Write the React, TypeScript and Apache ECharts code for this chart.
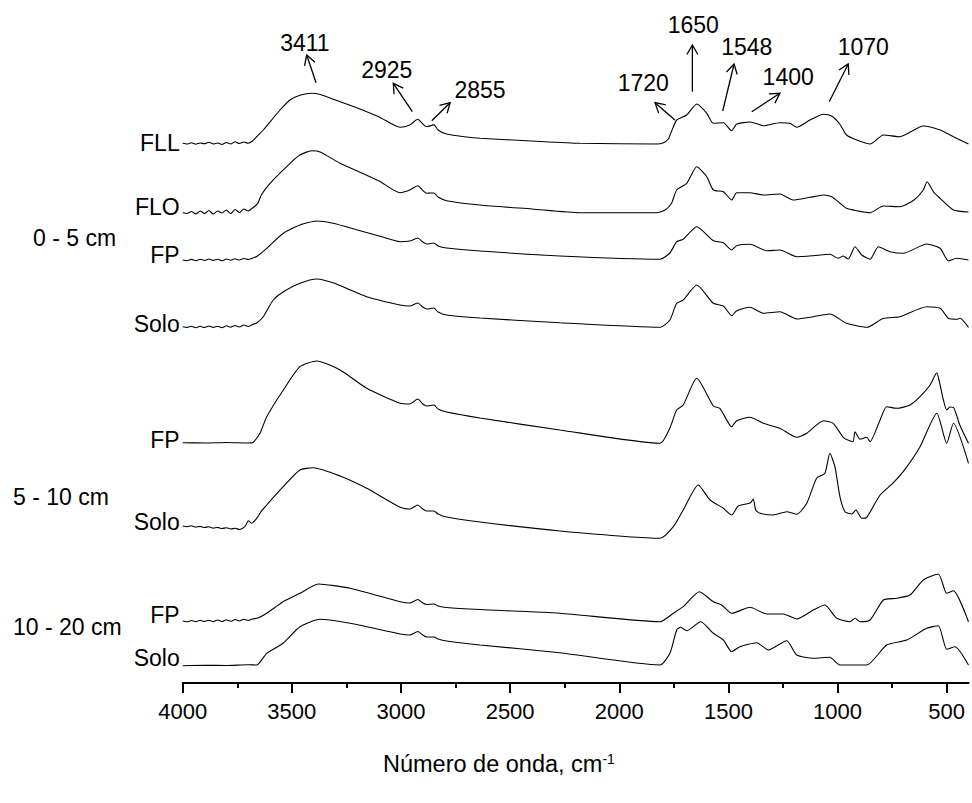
import React, { useEffect, useRef } from "react";
import * as echarts from "echarts";

const FONT = "'Liberation Sans', Arial, Helvetica, sans-serif";

// Spectra: [wavenumber (cm-1), absorbance with stacking offset]
const fll: [number, number][] = [
  [4000, 5.397], [3980, 5.39], [3960, 5.402], [3940, 5.388], [3920, 5.4], [3900, 5.392], [3880, 5.408],
  [3860, 5.39], [3840, 5.4], [3820, 5.385], [3800, 5.405], [3780, 5.39], [3760, 5.412], [3740, 5.395],
  [3720, 5.41], [3700, 5.398], [3680, 5.42],
  [3661, 5.463], [3631, 5.53], [3554, 5.73], [3508, 5.83], [3463, 5.877], [3409, 5.897],
  [3370, 5.885], [3279, 5.813], [3200, 5.75], [3100, 5.66], [3004, 5.557], [2960, 5.58], [2923, 5.637],
  [2900, 5.59], [2882, 5.563], [2860, 5.575], [2849, 5.584], [2830, 5.53], [2791, 5.49], [2700, 5.46],
  [2638, 5.447], [2400, 5.42], [2180, 5.397], [1828, 5.39], [1800, 5.4], [1775, 5.44], [1760, 5.52],
  [1737, 5.63], [1691, 5.68], [1645, 5.79], [1599, 5.697], [1569, 5.597], [1523, 5.603], [1485, 5.523],
  [1462, 5.59], [1401, 5.61], [1340, 5.573], [1264, 5.603], [1218, 5.597], [1187, 5.557], [1126, 5.63],
  [1065, 5.687], [1027, 5.67], [990, 5.59], [959, 5.48], [912, 5.43], [851, 5.39], [790, 5.48],
  [714, 5.463], [607, 5.57], [530, 5.53], [469, 5.463], [400, 5.39],
];
const flo: [number, number][] = [
  [4000, 4.703], [3980, 4.695], [3960, 4.715], [3940, 4.69], [3920, 4.72], [3900, 4.695], [3880, 4.725],
  [3860, 4.69], [3840, 4.72], [3820, 4.7], [3800, 4.73], [3780, 4.695], [3760, 4.735], [3740, 4.705],
  [3720, 4.74], [3700, 4.72], [3680, 4.75],
  [3668, 4.77], [3655, 4.8], [3640, 4.88], [3600, 4.997], [3508, 5.197], [3463, 5.28], [3409, 5.323],
  [3370, 5.31], [3279, 5.197], [3200, 5.12], [3100, 5.02], [3004, 4.903], [2960, 4.93], [2923, 4.973],
  [2900, 4.925], [2882, 4.897], [2860, 4.9], [2849, 4.9], [2830, 4.86], [2791, 4.823], [2638, 4.78],
  [2400, 4.74], [2180, 4.703], [1828, 4.703], [1790, 4.73], [1760, 4.8], [1737, 4.93], [1691, 4.997],
  [1645, 5.163], [1599, 5.063], [1569, 4.93], [1523, 4.913], [1485, 4.83], [1462, 4.903], [1401, 4.903],
  [1340, 4.88], [1264, 4.89], [1204, 4.83], [1126, 4.857], [1065, 4.88], [1027, 4.863], [990, 4.8],
  [959, 4.747], [912, 4.723], [851, 4.703], [790, 4.77], [714, 4.763], [650, 4.83], [607, 4.93],
  [590, 5.013], [560, 4.91], [530, 4.847], [469, 4.73], [400, 4.71],
];
const fp05: [number, number][] = [
  [4000, 4.23], [3980, 4.222], [3960, 4.236], [3940, 4.224], [3920, 4.238], [3900, 4.225], [3880, 4.24],
  [3860, 4.226], [3840, 4.238], [3820, 4.222], [3800, 4.24], [3780, 4.228], [3760, 4.242], [3740, 4.23],
  [3720, 4.245], [3700, 4.235], [3680, 4.25],
  [3661, 4.265], [3615, 4.347], [3539, 4.497], [3463, 4.58], [3386, 4.62], [3311, 4.597], [3200, 4.53],
  [3100, 4.47], [3004, 4.413], [2960, 4.42], [2923, 4.45], [2900, 4.41], [2882, 4.39], [2849, 4.4],
  [2830, 4.37], [2791, 4.35], [2638, 4.32], [2272, 4.27], [1813, 4.237], [1768, 4.3], [1737, 4.413],
  [1707, 4.437], [1645, 4.563], [1569, 4.423], [1523, 4.403], [1485, 4.33], [1462, 4.373], [1401, 4.387],
  [1325, 4.323], [1264, 4.33], [1187, 4.263], [1111, 4.273], [1035, 4.287], [997, 4.247], [974, 4.27],
  [951, 4.24], [920, 4.363], [889, 4.28], [851, 4.237], [813, 4.363], [759, 4.313], [699, 4.297],
  [592, 4.39], [530, 4.347], [492, 4.22], [454, 4.247], [400, 4.23],
];
const solo05: [number, number][] = [
  [4000, 3.563], [3980, 3.556], [3960, 3.568], [3940, 3.553], [3920, 3.567], [3900, 3.555], [3880, 3.57],
  [3860, 3.556], [3840, 3.568], [3820, 3.554], [3800, 3.572], [3780, 3.558], [3760, 3.575], [3740, 3.56],
  [3720, 3.58], [3700, 3.565], [3680, 3.585],
  [3661, 3.6], [3631, 3.663], [3585, 3.83], [3539, 3.913], [3463, 3.997], [3386, 4.04], [3311, 4.003],
  [3157, 3.863], [3004, 3.78], [2960, 3.77], [2923, 3.8], [2900, 3.76], [2882, 3.74], [2849, 3.75],
  [2830, 3.71], [2791, 3.68], [2638, 3.65], [2272, 3.603], [1813, 3.557], [1768, 3.63], [1737, 3.797],
  [1707, 3.83], [1645, 3.98], [1569, 3.797], [1523, 3.77], [1485, 3.673], [1462, 3.723], [1401, 3.757],
  [1340, 3.697], [1264, 3.713], [1187, 3.64], [1111, 3.663], [1035, 3.69], [959, 3.597], [866, 3.557],
  [790, 3.647], [714, 3.663], [592, 3.763], [530, 3.747], [492, 3.647], [454, 3.637], [439, 3.647],
  [400, 3.557],
];
const fp510: [number, number][] = [
  [4000, 2.403], [3900, 2.4], [3800, 2.405], [3700, 2.4], [3678, 2.405], [3646, 2.497], [3615, 2.663],
  [3539, 2.93], [3463, 3.163], [3386, 3.22], [3279, 3.13], [3157, 2.947], [3004, 2.797], [2960, 2.79],
  [2923, 2.84], [2900, 2.79], [2882, 2.77], [2849, 2.78], [2830, 2.74], [2791, 2.71], [2638, 2.65],
  [2272, 2.53], [1813, 2.397], [1768, 2.55], [1737, 2.73], [1707, 2.78], [1645, 3.047], [1569, 2.77],
  [1539, 2.747], [1485, 2.563], [1462, 2.623], [1401, 2.657], [1340, 2.597], [1264, 2.547], [1187, 2.457],
  [1141, 2.497], [1065, 2.623], [1020, 2.597], [974, 2.457], [953, 2.43], [929, 2.413], [920, 2.513],
  [897, 2.437], [866, 2.457], [851, 2.413], [805, 2.63], [775, 2.763], [729, 2.747], [668, 2.78],
  [622, 2.863], [576, 2.98], [545, 3.103], [535, 3.03], [515, 2.83], [500, 2.73], [485, 2.76],
  [469, 2.757], [440, 2.58], [400, 2.397],
];
const solo510: [number, number][] = [
  [4000, 1.57], [3980, 1.563], [3960, 1.572], [3940, 1.558], [3920, 1.566], [3900, 1.555], [3880, 1.562],
  [3860, 1.548], [3840, 1.556], [3820, 1.545], [3800, 1.553], [3780, 1.54], [3760, 1.548], [3740, 1.535],
  [3715, 1.563], [3699, 1.623], [3684, 1.597], [3661, 1.647], [3638, 1.723], [3615, 1.78], [3540, 1.963],
  [3463, 2.13], [3402, 2.153], [3279, 2.07], [3157, 1.947], [3004, 1.757], [2960, 1.74], [2923, 1.78],
  [2900, 1.74], [2882, 1.72], [2849, 1.72], [2830, 1.69], [2791, 1.66], [2638, 1.61], [2272, 1.52],
  [1813, 1.447], [1752, 1.563], [1707, 1.73], [1638, 1.98], [1584, 1.83], [1523, 1.747], [1485, 1.68],
  [1455, 1.77], [1400, 1.8], [1386, 1.84], [1375, 1.73], [1355, 1.697], [1294, 1.68], [1233, 1.713],
  [1187, 1.687], [1141, 1.797], [1096, 2.047], [1058, 2.097], [1035, 2.297], [1012, 2.163], [989, 1.863],
  [966, 1.713], [935, 1.69], [916, 1.73], [889, 1.647], [866, 1.657], [805, 1.88], [744, 2.003],
  [691, 2.137], [622, 2.363], [545, 2.697], [500, 2.397], [469, 2.597], [400, 2.197],
];
const fp1020: [number, number][] = [
  [4000, 0.62], [3980, 0.612], [3960, 0.625], [3940, 0.613], [3920, 0.627], [3900, 0.615], [3880, 0.628],
  [3860, 0.614], [3840, 0.63], [3820, 0.615], [3800, 0.632], [3780, 0.617], [3760, 0.635], [3740, 0.62],
  [3720, 0.638], [3700, 0.625], [3680, 0.64],
  [3655, 0.65], [3615, 0.697], [3540, 0.813], [3463, 0.897], [3379, 0.99], [3233, 0.947], [3004, 0.813],
  [2960, 0.8], [2923, 0.835], [2900, 0.8], [2882, 0.785], [2849, 0.79], [2830, 0.77], [2791, 0.755],
  [2638, 0.735], [2272, 0.697], [1813, 0.613], [1752, 0.697], [1707, 0.763], [1633, 0.913], [1569, 0.813],
  [1531, 0.78], [1485, 0.697], [1401, 0.757], [1325, 0.69], [1248, 0.69], [1187, 0.64], [1111, 0.73],
  [1058, 0.78], [1004, 0.647], [943, 0.613], [920, 0.647], [897, 0.613], [851, 0.63], [790, 0.83],
  [729, 0.847], [668, 0.88], [607, 1.03], [538, 1.09], [500, 0.897], [469, 0.923], [400, 0.613],
];
const solo1020: [number, number][] = [
  [4000, 0.173], [3900, 0.177], [3800, 0.175], [3700, 0.182], [3661, 0.18], [3615, 0.297], [3540, 0.397],
  [3463, 0.563], [3371, 0.637], [3233, 0.597], [3004, 0.49], [2960, 0.48], [2923, 0.515], [2900, 0.48],
  [2882, 0.46], [2849, 0.46], [2830, 0.44], [2791, 0.42], [2638, 0.38], [2272, 0.303], [1813, 0.18],
  [1768, 0.297], [1737, 0.53], [1719, 0.557], [1691, 0.523], [1627, 0.613], [1569, 0.497], [1523, 0.43],
  [1485, 0.313], [1447, 0.363], [1370, 0.403], [1317, 0.33], [1233, 0.423], [1187, 0.28], [1111, 0.247],
  [1035, 0.257], [989, 0.18], [866, 0.18], [775, 0.38], [683, 0.43], [592, 0.547], [538, 0.573],
  [500, 0.337], [462, 0.363], [400, 0.18],
];

const spectra = [fll, flo, fp05, solo05, fp510, solo510, fp1020, solo1020];
const curveNames = ["FLL", "FLO", "FP", "Solo", "FP", "Solo", "FP", "Solo"];
const curveLabelY = [5.4, 4.76, 4.28, 3.59, 2.43, 1.613, 0.68, 0.25];

const depthLabels = ["0 - 5 cm", "5 - 10 cm", "10 - 20 cm"];

const peakLabels = ["3411", "2925", "2855", "1720", "1650", "1548", "1400", "1070"];
const peakArrowTail: [number, number][] = [
  [3389, 6.003], [2948, 5.713], [2859, 5.623], [1745, 5.63], [1665, 5.913], [1526, 5.72], [1393, 5.713], [1038, 5.813],
];
const peakArrowTip: [number, number][] = [
  [3432, 6.28], [3035, 5.997], [2775, 5.803], [1836, 5.803], [1665, 6.38], [1474, 6.19], [1264, 5.897], [951, 6.19],
];
const peakLabelPos: [number, number][] = [
  [3440, 6.397], [3065, 6.13], [2638, 5.93], [1890, 5.997], [1661, 6.58], [1416, 6.363], [1226, 6.057], [882, 6.363],
];

const majorTicks = [4000, 3500, 3000, 2500, 2000, 1500, 1000, 500];
const minorTicks = [3750, 3250, 2750, 2250, 1750, 1250, 750];

export default function App() {
  const ref = useRef<HTMLDivElement>(null);
  useEffect(() => {
    if (!ref.current) return;
    const chart = echarts.init(ref.current, undefined, { renderer: "svg" });

    const lineSeries = spectra.map((d) => ({
      type: "line",
      data: d,
      showSymbol: false,
      symbol: "none",
      smooth: 0.2,
      silent: true,
      xAxisIndex: 0,
      yAxisIndex: 0,
      lineStyle: { color: "#000", width: 1.1 },
      z: 2,
    }));

    const labelSeries = {
      type: "custom",
      coordinateSystem: "cartesian2d",
      xAxisIndex: 0,
      yAxisIndex: 0,
      silent: true,
      data: curveNames.map((_, i) => [4000, curveLabelY[i], i]),
      renderItem: (params: any, api: any) => {
        const p = api.coord([api.value(0), api.value(1)]);
        return {
          type: "text",
          x: p[0] - 3,
          y: p[1],
          style: {
            text: curveNames[api.value(2)],
            textAlign: "right",
            textVerticalAlign: "middle",
            font: `23px ${FONT}`,
            fill: "#000",
          },
        };
      },
      z: 5,
    };

    const annotationSeries = {
      type: "custom",
      coordinateSystem: "cartesian2d",
      xAxisIndex: 0,
      yAxisIndex: 0,
      silent: true,
      data: peakLabels.map((_, i) => [
        peakArrowTail[i][0], peakArrowTail[i][1],
        peakArrowTip[i][0], peakArrowTip[i][1],
        peakLabelPos[i][0], peakLabelPos[i][1], i,
      ]),
      renderItem: (params: any, api: any) => {
        const a = api.coord([api.value(0), api.value(1)]);
        const b = api.coord([api.value(2), api.value(3)]);
        const t = api.coord([api.value(4), api.value(5)]);
        const dx = b[0] - a[0];
        const dy = b[1] - a[1];
        const len = Math.sqrt(dx * dx + dy * dy) || 1;
        const ux = dx / len;
        const uy = dy / len;
        const L = 11;
        const ang = (30 * Math.PI) / 180;
        const arm = (s: number) => {
          const c = Math.cos(s * ang);
          const sn = Math.sin(s * ang);
          const bx = -ux;
          const by = -uy;
          return [b[0] + (bx * c - by * sn) * L, b[1] + (bx * sn + by * c) * L];
        };
        return {
          type: "group",
          children: [
            {
              type: "line",
              shape: { x1: a[0], y1: a[1], x2: b[0], y2: b[1] },
              style: { stroke: "#000", lineWidth: 1.3 },
            },
            {
              type: "polyline",
              shape: { points: [arm(1), b, arm(-1)] },
              style: { stroke: "#000", lineWidth: 1.3, fill: null },
            },
            {
              type: "text",
              x: t[0],
              y: t[1],
              style: {
                text: peakLabels[api.value(6)],
                textAlign: "center",
                textVerticalAlign: "middle",
                font: `23px ${FONT}`,
                fill: "#000",
              },
            },
          ],
        };
      },
      z: 5,
    };

    const depthY = [238, 497, 627];
    const depthX = [33, 13, 13];

    const option: any = {
      animation: false,
      backgroundColor: "#fff",
      grid: { left: 182.7, right: 3.5, top: 0, bottom: 120, containLabel: false },
      xAxis: [
        {
          type: "value",
          min: 400,
          max: 4000,
          inverse: true,
          position: "bottom",
          axisLine: { show: true, onZero: false, lineStyle: { color: "#000", width: 2 } },
          axisTick: { show: true, length: 10, lineStyle: { color: "#000", width: 2 }, customValues: majorTicks },
          axisLabel: {
            customValues: majorTicks,
            formatter: (v: number) => String(v),
            fontSize: 22,
            color: "#000",
            fontFamily: FONT,
            margin: 17,
          },
          splitLine: { show: false },
        },
        {
          type: "value",
          min: 400,
          max: 4000,
          inverse: true,
          position: "bottom",
          axisLine: { show: false, onZero: false },
          axisTick: { show: true, length: 5, lineStyle: { color: "#000", width: 2 }, customValues: minorTicks },
          axisLabel: { show: false },
          splitLine: { show: false },
        },
      ],
      yAxis: { type: "value", min: 0, max: 6.83, show: false },
      series: [...lineSeries, labelSeries, annotationSeries],
      graphic: [
        ...depthLabels.map((txt, i) => ({
          type: "text",
          x: depthX[i],
          y: depthY[i],
          style: {
            text: txt,
            font: `23px ${FONT}`,
            fill: "#000",
            textVerticalAlign: "middle",
            verticalAlign: "middle",
          },
        })),
        {
          type: "text",
          x: 383,
          y: 764,
          style: {
            text: "{n|Número de onda, cm}{s|-1}",
            textVerticalAlign: "middle",
            verticalAlign: "middle",
            rich: {
              n: { fontSize: 23.5, fontFamily: FONT, fill: "#000", color: "#000" },
              s: { fontSize: 14, fontFamily: FONT, fill: "#000", color: "#000", verticalAlign: "top" },
            },
          },
        },
      ],
    };
    chart.setOption(option);
    return () => chart.dispose();
  }, []);
  return (
    <div
      ref={ref}
      style={{ position: "fixed", left: 0, top: 0, width: 972, height: 803, background: "#fff" }}
    />
  );
}
